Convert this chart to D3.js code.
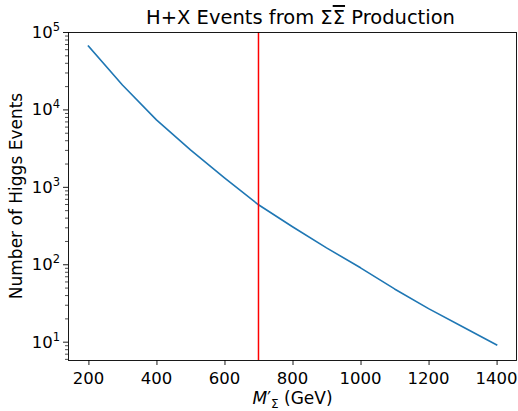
<!DOCTYPE html>
<html><head><meta charset="utf-8">
<script src="https://cdn.jsdelivr.net/npm/d3@7"></script>
<style>body{margin:0;background:#fff}svg{display:block}text{font-family:"DejaVu Sans",sans-serif;fill:#000}</style>
</head><body><svg id="c" width="518" height="411"></svg>
<script>
const masses = [200,300,400,500,600,700,800,900,1000,1100,1200,1300,1400];
const events = [65900,20700,7330,3000,1306,587,305,163,90,48,26.7,15.6,9.1];
const cutMass = 700;
const xTicks = [200,400,600,800,1000,1200,1400];
const yTicks = [10,100,1000,10000,100000];

const svg = d3.select("#c");
const L=68,R=517,T=32,B=360;
const x = d3.scaleLinear().domain([140,1460]).range([L,R]);
const y = d3.scaleLog().domain([5.8,100000]).range([B,T]);

const g = svg.append("g");
// minor ticks
const minor=[];
for(let e=0;e<5;e++){for(let k=2;k<10;k++){const v=k*Math.pow(10,e);if(v>=5.8&&v<=100000)minor.push(v);}}
g.selectAll(".mn").data(minor).join("line").attr("x1",L).attr("x2",L-3).attr("y1",d=>y(d)+0.5).attr("y2",d=>y(d)+0.5).attr("stroke","#000").attr("stroke-width",0.7);
g.selectAll(".mj").data(yTicks).join("line").attr("x1",L).attr("x2",L-5).attr("y1",d=>y(d)+0.5).attr("y2",d=>y(d)+0.5).attr("stroke","#000").attr("stroke-width",0.9);
const yl = g.selectAll(".yl").data(yTicks).join("text").attr("x",L-8).attr("y",d=>y(d)+6).attr("text-anchor","end").style("font-size","16.5px");
yl.each(function(d){const t=d3.select(this);t.append("tspan").text("10");t.append("tspan").attr("dy",-7).style("font-size","11.5px").text(Math.round(Math.log10(d)));});
// x ticks
g.selectAll(".xt").data(xTicks).join("line").attr("x1",d=>x(d)+0.5).attr("x2",d=>x(d)+0.5).attr("y1",B).attr("y2",B+5).attr("stroke","#000").attr("stroke-width",0.9);
g.selectAll(".xl").data(xTicks).join("text").attr("x",d=>x(d)).attr("y",B+24).attr("text-anchor","middle").style("font-size","16.5px").text(d=>d);

// data line
g.append("path").datum(masses.map((m,i)=>[m,events[i]])).attr("fill","none").attr("stroke","#1f77b4").attr("stroke-width",1.6).attr("stroke-linejoin","round").attr("stroke-linecap","square")
 .attr("d",d3.line().x(d=>x(d[0])).y(d=>y(d[1])));
// red line
g.append("line").attr("x1",x(cutMass)).attr("x2",x(cutMass)).attr("y1",T).attr("y2",B).attr("stroke","#ff0000").attr("stroke-width",1.5);

// frame
g.append("rect").attr("x",L+0.5).attr("y",T+0.5).attr("width",R-L-1).attr("height",B-T).attr("fill","none").attr("stroke","#000").attr("stroke-width",0.9);

// title
const tt = svg.append("text").attr("x",(L+R)/2+8).attr("y",24).attr("text-anchor","middle").style("font-size","19.5px");
tt.append("tspan").text("H+X Events from Σ");
tt.append("tspan").style("text-decoration","overline").text("Σ");
tt.append("tspan").text(" Production");

// x label
const xl = svg.append("text").attr("x",(L+R)/2).attr("y",404).attr("text-anchor","middle").style("font-size","17px");
xl.append("tspan").style("font-style","italic").text("M");
xl.append("tspan").text("′");
xl.append("tspan").attr("dy",4).style("font-size","12px").text("Σ");
xl.append("tspan").attr("dy",-4).text(" (GeV)");

// y label
svg.append("text").attr("transform",`translate(22,${(T+B)/2}) rotate(-90)`).attr("text-anchor","middle").style("font-size","17px").text("Number of Higgs Events");
</script></body></html>
